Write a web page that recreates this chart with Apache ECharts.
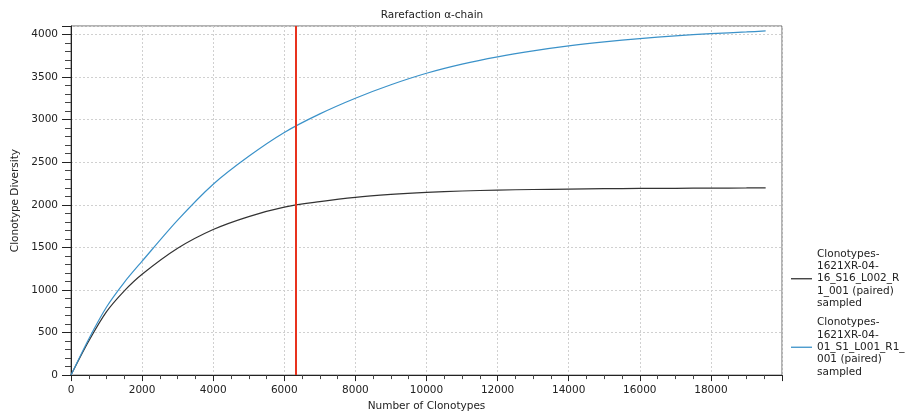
<!DOCTYPE html>
<html>
<head>
<meta charset="utf-8">
<script src="https://cdn.jsdelivr.net/npm/echarts@6/dist/echarts.min.js"></script>
<style>
  html, body { margin: 0; padding: 0; background: #fff; }
  #chart { width: 910px; height: 417px; }
</style>
</head>
<body>
<div id="chart"></div>
<script>
// sampled sizes (number of clonotypes)
const sampleSizes = [0, 500, 1000, 1500, 2000, 3000, 4000, 5000, 6000, 7000, 8000, 9000,
    10000, 11000, 12000, 13000, 14000, 15000, 16000, 17000, 18000, 19000, 19540];
// diversity curves
const diversityS16 = [0, 400, 745, 990, 1185, 1490, 1710, 1862, 1973, 2037, 2088, 2122,
    2146, 2162, 2173, 2180, 2184, 2189, 2192, 2194, 2196, 2198, 2200];
const diversityS1 = [0, 425, 800, 1090, 1338, 1820, 2242, 2570, 2850, 3068, 3252, 3410,
    3545, 3652, 3738, 3808, 3866, 3913, 3952, 3984, 4010, 4030, 4042];
const seriesNames = [
    'Clonotypes-\n1621XR-04-\n16_S16_L002_R\n1_001 (paired)\nsampled',
    'Clonotypes-\n1621XR-04-\n01_S1_L001_R1_\n001 (paired)\nsampled'
];
const cutoff = 6329;

function toPairs(xs, ys) {
    return xs.map(function (x, i) { return [x, ys[i]]; });
}

function plainNumber(v) {
    return String(v);
}

const font = 'DejaVu Sans';
const chart = echarts.init(document.getElementById('chart'));

const options = {
    animation: false,
    title: {
        text: 'Rarefaction α-chain',
        left: 427,
        top: 5,
        textAlign: 'center',
        textStyle: { fontFamily: font, fontSize: 10.5, fontWeight: 'normal', color: '#222' }
    },
    grid: {
        left: 71, right: 128, top: 26, bottom: 36,
        show: true, borderColor: '#666', borderWidth: 1, backgroundColor: '#fff'
    },
    legend: {
        orient: 'vertical',
        left: 786,
        top: 243,
        itemWidth: 21,
        itemHeight: 1.3,
        itemGap: 7,
        icon: 'rect',
        textStyle: { fontFamily: font, fontSize: 10.5, color: '#222', lineHeight: 12.3 },
        data: seriesNames
    },
    xAxis: {
        type: 'value',
        min: 0, max: 20000, interval: 2000,
        name: 'Number of Clonotypes',
        nameLocation: 'middle',
        nameGap: 22,
        nameTextStyle: { fontFamily: font, fontSize: 10.5, color: '#222' },
        axisLine: { show: true, onZero: false, lineStyle: { color: '#222', width: 1 } },
        axisTick: { show: true, length: 6, lineStyle: { color: '#222' } },
        minorTick: { show: true, splitNumber: 4, length: 4, lineStyle: { color: '#444' } },
        axisLabel: { fontFamily: font, fontSize: 10.5, color: '#222', margin: 10, showMaxLabel: false, formatter: plainNumber },
        splitLine: { show: true, lineStyle: { color: '#d0d0d0', type: [2, 2] } }
    },
    yAxis: {
        type: 'value',
        min: 0, max: 4100, interval: 500,
        name: 'Clonotype Diversity',
        nameLocation: 'middle',
        nameGap: 47,
        nameTextStyle: { fontFamily: font, fontSize: 10.5, color: '#222' },
        axisLine: { show: true, onZero: false, lineStyle: { color: '#222', width: 1 } },
        axisTick: { show: true, length: 9, lineStyle: { color: '#222' } },
        minorTick: { show: true, splitNumber: 5, length: 6, lineStyle: { color: '#444' } },
        axisLabel: { fontFamily: font, fontSize: 10.5, color: '#222', margin: 13, showMaxLabel: false, formatter: plainNumber },
        splitLine: { show: true, lineStyle: { color: '#d0d0d0', type: [2, 2] } }
    },
    series: [
        {
            name: seriesNames[0],
            type: 'line',
            symbol: 'none',
            smooth: 0.3,
            color: '#333333',
            lineStyle: { width: 1.2 },
            data: toPairs(sampleSizes, diversityS16),
            markLine: {
                silent: true,
                symbol: 'none',
                label: { show: false },
                lineStyle: { color: '#e8321e', width: 2, type: 'solid' },
                data: [{ xAxis: cutoff }]
            }
        },
        {
            name: seriesNames[1],
            type: 'line',
            symbol: 'none',
            smooth: 0.3,
            color: '#3b92c9',
            lineStyle: { width: 1.2 },
            data: toPairs(sampleSizes, diversityS1)
        }
    ]
};
chart.setOption(options);
</script>
</body>
</html>
